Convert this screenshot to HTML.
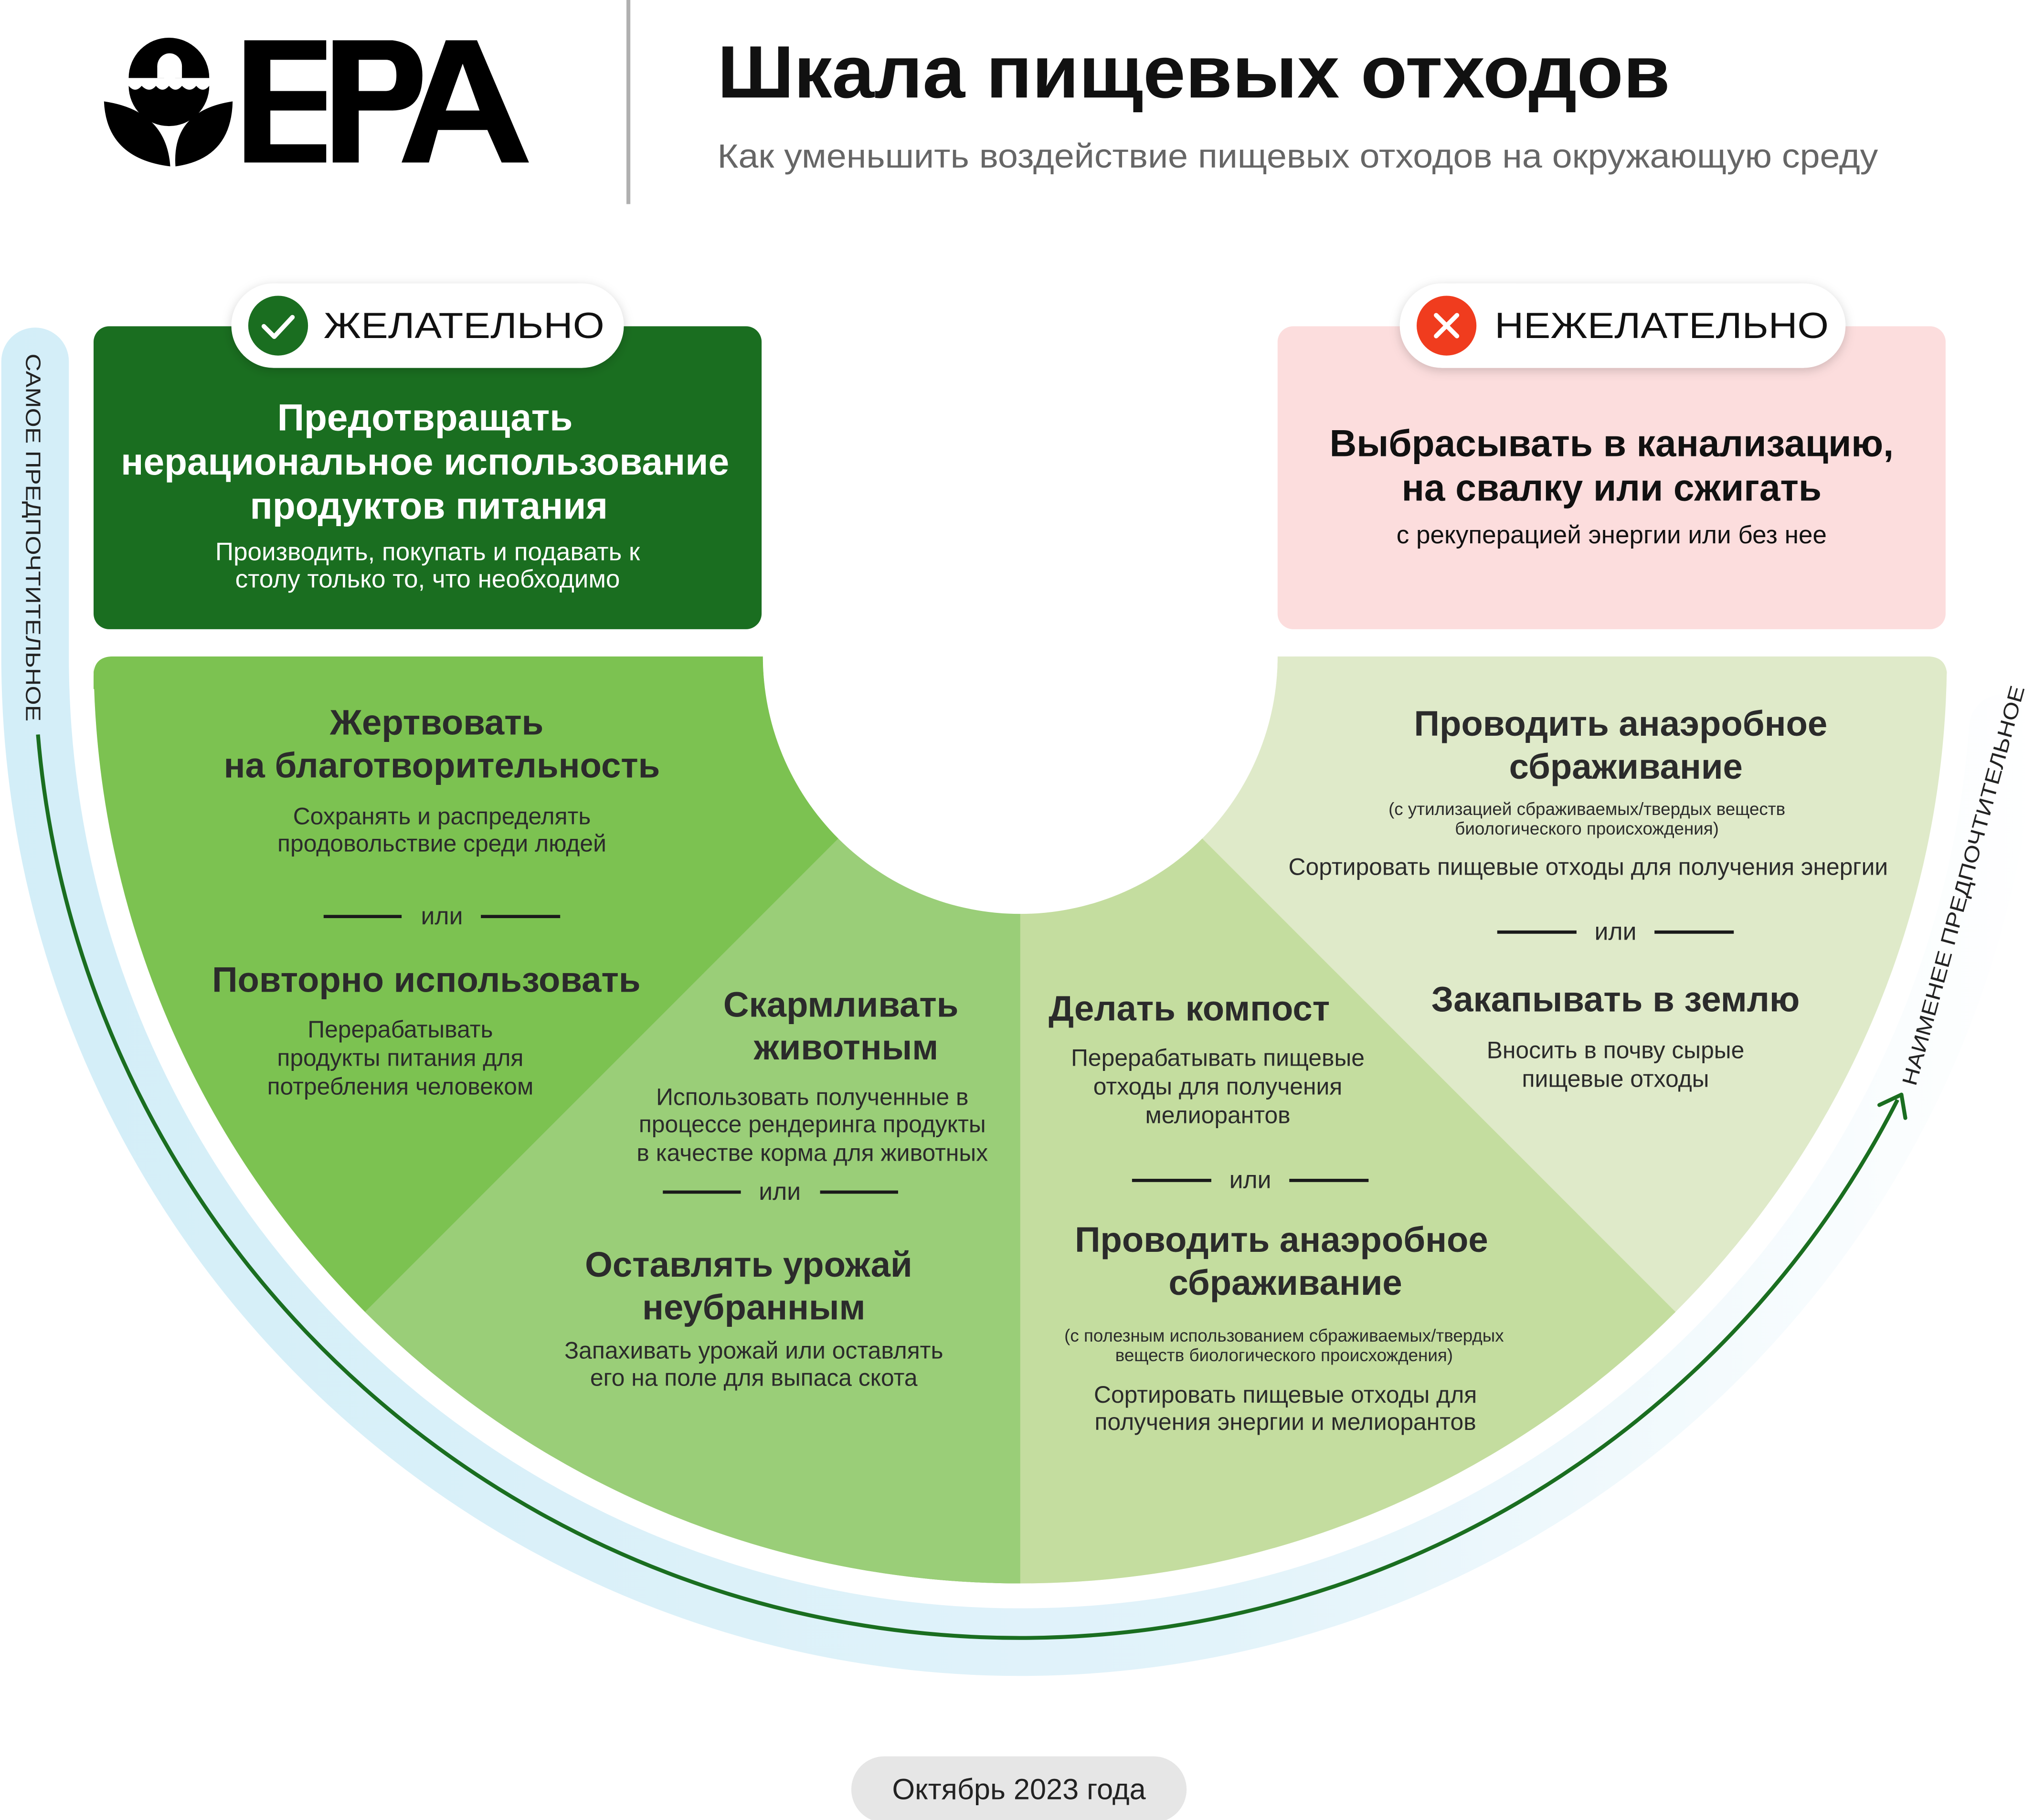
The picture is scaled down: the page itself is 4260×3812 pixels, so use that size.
<!DOCTYPE html>
<html><head><meta charset="utf-8"><style>
html,body{margin:0;padding:0;background:#fff;overflow:hidden;width:4260px;height:3812px}
svg{display:block}
text{font-family:"Liberation Sans","DejaVu Sans",sans-serif}
</style></head><body>
<svg width="4260" height="3812" viewBox="0 0 1565 1400" preserveAspectRatio="none" xmlns="http://www.w3.org/2000/svg">
<defs>
<linearGradient id="band" gradientUnits="userSpaceOnUse" x1="0" y1="0" x2="1565" y2="0">
<stop offset="0" stop-color="#d3eef8"/><stop offset="0.6" stop-color="#e2f3fa"/><stop offset="1" stop-color="#ffffff"/>
</linearGradient>
<filter id="sh" x="-20%" y="-40%" width="140%" height="180%"><feDropShadow dx="0" dy="2" stdDeviation="4" flood-color="#000" flood-opacity="0.18"/></filter>
<clipPath id="semi"><path d="M72,520 Q72,505 87,505 L587,505 A198,198 0 0 0 983,505 L1483,505 Q1498,505 1498,520 L1498,505 A713,713 0 0 1 72,505 Z"/></clipPath>
</defs>

<!-- Logo -->
<g fill="#000">
<path d="M99,60 A31,31 0 0 1 161,60 Z"/>
<path d="M99,66 Q104,72 109,66 Q115,72 120,66 Q125,72 130,66 Q135,72 140,66 Q146,72 151,66 Q156,72 161,66 A31,31 0 0 1 99,66 Z"/>
<path d="M80,78 Q128,85 131,128 Q82,122 80,78 Z"/>
<path d="M179,78 Q132,85 135,128 Q178,122 179,78 Z"/>
<path d="M188,31 H251 V46 H208 V70 H251 V85 H208 V111 H251 V125 H188 Z"/>
<path d="M256,31 H302 Q325,34 325,58 Q325,85 302,85 H276 V125 H256 Z M276,46 V70 H297 Q305,70 305,58 Q305,46 297,46 Z" fill-rule="evenodd"/>
<path d="M343,31 H367 L407,125 H386 L375,100 H337 L330,125 H309 Z M356,49 L343,85 H369 Z" fill-rule="evenodd"/>
</g>
<g fill="#fff"><ellipse cx="130.5" cy="51" rx="9.5" ry="10"/><rect x="121" y="51" width="19" height="9"/></g>
<rect x="482" y="0" width="3" height="157" fill="#b0b0b0"/>
<text x="552" y="75" font-size="57" font-weight="bold" fill="#111" textLength="733" lengthAdjust="spacingAndGlyphs">Шкала пищевых отходов</text>
<text x="552" y="129" font-size="26" fill="#666" textLength="893" lengthAdjust="spacingAndGlyphs">Как уменьшить воздействие пищевых отходов на окружающую среду</text>

<!-- outer band -->
<path d="M27,278 V510 A758,758 0 0 0 1541,560" fill="none" stroke="url(#band)" stroke-width="52" stroke-linecap="round"/>
<path d="M29.2,565 A758,758 0 0 0 1460,846" fill="none" stroke="#1a6e20" stroke-width="3"/>
<path d="M1446,850 L1463,842 L1466,860" fill="none" stroke="#1a6e20" stroke-width="3" stroke-linecap="round" stroke-linejoin="round"/>
<text transform="translate(20,272) rotate(90)" font-size="16" fill="#222" textLength="283" lengthAdjust="spacingAndGlyphs">САМОЕ ПРЕДПОЧТИТЕЛЬНОЕ</text>
<text transform="translate(1474,836) rotate(-74.7)" font-size="16" fill="#222" textLength="318" lengthAdjust="spacingAndGlyphs">НАИМЕНЕЕ ПРЕДПОЧТИТЕЛЬНОЕ</text>

<!-- Sectors -->
<g clip-path="url(#semi)">
<rect x="60" y="495" width="1450" height="740" fill="#dfeac9"/>
<path d="M785,505 L-200,1490 L785,1490 Z M785,505 L-200,-480 L-200,1490 Z" fill="#7cc251"/>
<path d="M785,505 L-200,1490 L785,1490 Z" fill="#9ace78"/>
<path d="M785,505 L785,1490 L1770,1490 Z" fill="#c4dd9f"/>
</g>
<circle cx="785" cy="505" r="198" fill="#fff"/>
<rect x="72" y="495" width="1426" height="10" fill="#fff"/>
<path d="M72,520 Q72,505 87,505 L572,505 Q586,505 587,515 L587,530 L72,530Z" fill="#7cc251"/>
<path d="M983,515 Q984,505 998,505 L1483,505 Q1497,505 1497,520 L1497,530 L983,530Z" fill="#dfeac9"/>

<!-- Top boxes -->
<rect x="72" y="251" width="514" height="233" rx="12" fill="#1a6e20"/>
<rect x="983" y="251" width="514" height="233" rx="12" fill="#fcdddd"/>
<rect x="178" y="218" width="302" height="65" rx="32.5" fill="#fff" filter="url(#sh)"/>
<circle cx="214" cy="250.5" r="23" fill="#1a6e20"/>
<path d="M203,251 L211,259 L225,244" fill="none" stroke="#fff" stroke-width="3.5" stroke-linecap="round" stroke-linejoin="round"/>
<text x="249" y="260" font-size="28" fill="#111" textLength="216" lengthAdjust="spacingAndGlyphs">ЖЕЛАТЕЛЬНО</text>
<rect x="1077" y="218" width="343" height="65" rx="32.5" fill="#fff" filter="url(#sh)"/>
<circle cx="1113" cy="250.5" r="23" fill="#f03c1e"/>
<path d="M1105,242.5 L1121,258.5 M1121,242.5 L1105,258.5" stroke="#fff" stroke-width="3.5" stroke-linecap="round"/>
<text x="1150" y="260" font-size="28" fill="#111" textLength="257" lengthAdjust="spacingAndGlyphs">НЕЖЕЛАТЕЛЬНО</text>

<g text-anchor="middle" fill="#fff">
<text x="327" y="331" font-size="28.8" font-weight="bold">Предотвращать</text>
<text x="327" y="365" font-size="28.8" font-weight="bold">нерациональное использование</text>
<text x="330" y="399" font-size="28.8" font-weight="bold">продуктов питания</text>
<text x="329" y="431" font-size="19.5">Производить, покупать и подавать к</text>
<text x="329" y="452" font-size="19.5">столу только то, что необходимо</text>
</g>
<g text-anchor="middle" fill="#111">
<text x="1240" y="351" font-size="28.8" font-weight="bold">Выбрасывать в канализацию,</text>
<text x="1240" y="385" font-size="28.8" font-weight="bold">на свалку или сжигать</text>
<text x="1240" y="418" font-size="19.5">с рекуперацией энергии или без нее</text>
</g>

<!-- Sector texts -->
<g text-anchor="middle" fill="#2b2b2b">
<text x="336" y="565" font-size="27.3" font-weight="bold">Жертвовать</text>
<text x="340" y="598" font-size="27.3" font-weight="bold">на благотворительность</text>
<text x="340" y="634" font-size="18.3">Сохранять и распределять</text>
<text x="340" y="655" font-size="18.3">продовольствие среди людей</text>
<text x="340" y="711" font-size="19">или</text>
<text x="328" y="763" font-size="27.3" font-weight="bold">Повторно использовать</text>
<text x="308" y="798" font-size="18.3">Перерабатывать</text>
<text x="308" y="820" font-size="18.3">продукты питания для</text>
<text x="308" y="842" font-size="18.3">потребления человеком</text>

<text x="647" y="782" font-size="27.3" font-weight="bold">Скармливать</text>
<text x="651" y="815" font-size="27.3" font-weight="bold">животным</text>
<text x="625" y="850" font-size="18.3">Использовать полученные в</text>
<text x="625" y="871" font-size="18.3">процессе рендеринга продукты</text>
<text x="625" y="893" font-size="18.3">в качестве корма для животных</text>
<text x="600" y="923" font-size="19">или</text>
<text x="576" y="982" font-size="27.3" font-weight="bold">Оставлять урожай</text>
<text x="580" y="1015" font-size="27.3" font-weight="bold">неубранным</text>
<text x="580" y="1045" font-size="18.3">Запахивать урожай или оставлять</text>
<text x="580" y="1066" font-size="18.3">его на поле для выпаса скота</text>

<text x="915" y="785" font-size="27.3" font-weight="bold">Делать компост</text>
<text x="937" y="820" font-size="18.3">Перерабатывать пищевые</text>
<text x="937" y="842" font-size="18.3">отходы для получения</text>
<text x="937" y="864" font-size="18.3">мелиорантов</text>
<text x="962" y="914" font-size="19">или</text>
<text x="986" y="963" font-size="27.3" font-weight="bold">Проводить анаэробное</text>
<text x="989" y="996" font-size="27.3" font-weight="bold">сбраживание</text>
<text x="988" y="1032" font-size="13.5">(с полезным использованием сбраживаемых/твердых</text>
<text x="988" y="1047" font-size="13.5">веществ биологического происхождения)</text>
<text x="989" y="1079" font-size="18.3">Сортировать пищевые отходы для</text>
<text x="989" y="1100" font-size="18.3">получения энергии и мелиорантов</text>

<text x="1247" y="566" font-size="27.3" font-weight="bold">Проводить анаэробное</text>
<text x="1251" y="599" font-size="27.3" font-weight="bold">сбраживание</text>
<text x="1221" y="627" font-size="13.5">(с утилизацией сбраживаемых/твердых веществ</text>
<text x="1221" y="642" font-size="13.5">биологического происхождения)</text>
<text x="1222" y="673" font-size="18.3">Сортировать пищевые отходы для получения энергии</text>
<text x="1243" y="723" font-size="19">или</text>
<text x="1243" y="778" font-size="27.3" font-weight="bold">Закапывать в землю</text>
<text x="1243" y="814" font-size="18.3">Вносить в почву сырые</text>
<text x="1243" y="836" font-size="18.3">пищевые отходы</text>
</g>
<g stroke="#1a1a1a" stroke-width="2.5">
<path d="M249,705 H309 M370,705 H431"/>
<path d="M510,917 H570 M631,917 H691"/>
<path d="M871,908 H932 M992,908 H1053"/>
<path d="M1152,717 H1213 M1273,717 H1334"/>
</g>

<!-- Date -->
<rect x="655" y="1351" width="258" height="51" rx="25.5" fill="#e6e6e6"/>
<text x="784" y="1384" font-size="22.5" text-anchor="middle" fill="#222">Октябрь 2023 года</text>
</svg>
</body></html>
